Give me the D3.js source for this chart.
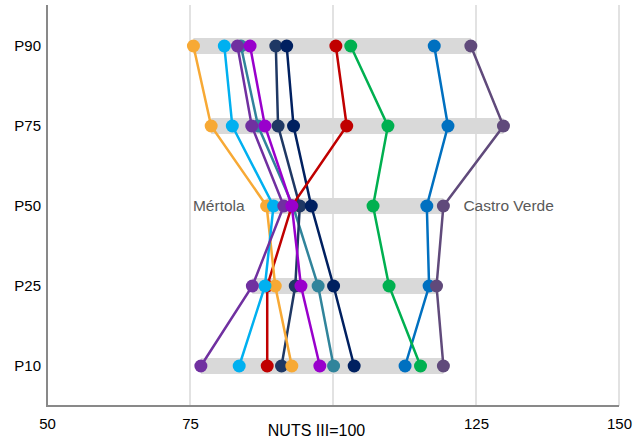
<!DOCTYPE html>
<html>
<head>
<meta charset="utf-8">
<script src="https://cdn.jsdelivr.net/npm/d3@7"></script>
<style>
  html, body { margin: 0; padding: 0; background: #fff; }
  svg { display: block; font-family: "Liberation Sans", Arial, sans-serif; }
</style>
</head>
<body>
<svg id="chart" width="644" height="438"></svg>
<script>
// ---- data ----
const percentiles = ["P90", "P75", "P50", "P25", "P10"];
const xTicks = [50, 75, 100, 125, 150];
const xTickLabels = ["50", "75", "NUTS III=100", "125", "150"];

const seriesNames = ["S-teal", "S-darkblue", "S-navy", "S-red", "Mértola", "S-lightblue", "S-purple", "S-violet", "S-blue", "S-green", "Castro Verde"];
const seriesColors = ["#31849b", "#1f3864", "#002060", "#c00000", "#f7a935", "#00b0f0", "#7030a0", "#9900cc", "#0070c0", "#00b050", "#604a7b"];
// values in percentile order: P90, P75, P50, P25, P10
const tealValues      = [83.9, 86.9, 93.0, 97.4, 100.1];
const darkBlueValues  = [90.0, 90.4, 94.2, 93.4, 91.0];
const navyValues      = [91.9, 93.1, 96.2, 100.1, 103.7];
const redValues       = [100.5, 102.4, 92.8, 88.5, 88.5];
const mertolaValues   = [75.6, 78.7, 88.4, 89.9, 92.8];
const lightBlueValues = [81.0, 82.4, 89.6, 88.1, 83.6];
const purpleValues    = [83.3, 85.8, 91.4, 85.9, 76.9];
const violetValues    = [85.5, 88.1, 92.8, 94.4, 97.7];
const blueValues      = [117.7, 120.1, 116.4, 116.8, 112.6];
const greenValues     = [103.1, 109.6, 107.0, 109.8, 115.3];
const castroValues    = [124.1, 129.8, 119.3, 118.1, 119.3];
const seriesValues = [tealValues, darkBlueValues, navyValues, redValues, mertolaValues, lightBlueValues,
                      purpleValues, violetValues, blueValues, greenValues, castroValues];

const labelledSeries = ["Mértola", "Castro Verde"];
const labelPercentile = "P50";

// ---- build ----
const series = seriesNames.map((name, i) => ({
  name, color: seriesColors[i],
  points: percentiles.map((p, j) => ({ p, v: seriesValues[i][j] }))
}));

const svg = d3.select("#chart");
const x = d3.scaleLinear().domain([50, 150]).range([47, 619]);
const y = d3.scalePoint().domain(percentiles).range([6, 406]).padding(0.5);
const bottomY = 406, topY = 5;

// gridlines
svg.append("g").selectAll("line").data(xTicks.slice(1)).join("line")
  .attr("x1", d => x(d)).attr("x2", d => x(d))
  .attr("y1", topY).attr("y2", bottomY)
  .attr("stroke", "#d9d9d9").attr("stroke-width", 1.5);

// range bars per percentile
svg.append("g").selectAll("rect").data(percentiles).join("rect")
  .attr("x", p => x(d3.min(seriesValues, s => s[percentiles.indexOf(p)])))
  .attr("width", p => {
    const j = percentiles.indexOf(p);
    return x(d3.max(seriesValues, s => s[j])) - x(d3.min(seriesValues, s => s[j]));
  })
  .attr("y", p => y(p) - 8).attr("height", 16)
  .attr("fill", "#d9d9d9");

// axes lines
svg.append("line").attr("x1", x(50)).attr("x2", x(50)).attr("y1", topY).attr("y2", bottomY + 1)
  .attr("stroke", "#898989").attr("stroke-width", 2);
svg.append("line").attr("x1", x(50) - 1).attr("x2", x(150)).attr("y1", bottomY).attr("y2", bottomY)
  .attr("stroke", "#898989").attr("stroke-width", 2);

// x tick labels
const xAxis = d3.axisBottom(x).tickValues(xTicks).tickSize(0)
  .tickFormat(d => xTickLabels[xTicks.indexOf(d)]);
const gx = svg.append("g").attr("transform", `translate(0,${bottomY})`).call(xAxis);
gx.select(".domain").remove();
gx.selectAll("text").attr("font-size", d => d === 100 ? 16 : 15).attr("fill", "#000")
  .attr("font-family", "Liberation Sans, Arial, sans-serif")
  .attr("x", d => d === 100 ? -17 : 0)
  .attr("y", d => d === 100 ? 19 : 12);

// y tick labels
const yAxis = d3.axisLeft(y).tickSize(0);
const gy = svg.append("g").attr("transform", `translate(${x(50)},0)`).call(yAxis);
gy.select(".domain").remove();
gy.selectAll("text").attr("font-size", 15).attr("fill", "#000")
  .attr("font-family", "Liberation Sans, Arial, sans-serif")
  .attr("x", -6);

// series
const line = d3.line().x(d => x(d.v)).y(d => y(d.p));
const sg = svg.append("g").selectAll("g").data(series).join("g");
sg.append("path").attr("d", d => line(d.points)).attr("fill", "none")
  .attr("stroke", d => d.color).attr("stroke-width", 2.5);
sg.selectAll("circle").data(d => d.points.map(pt => ({ ...pt, color: d.color }))).join("circle")
  .attr("cx", d => x(d.v)).attr("cy", d => y(d.p)).attr("r", 6.5)
  .attr("fill", d => d.color);

// labels
series.filter(s => labelledSeries.includes(s.name)).forEach(s => {
  const pt = s.points.find(p => p.p === labelPercentile);
  const left = pt.v < 100;
  svg.append("text")
    .attr("x", x(pt.v) + (left ? -22 : 20))
    .attr("y", y(pt.p) + 5)
    .attr("text-anchor", left ? "end" : "start")
    .attr("font-size", 15.5).attr("fill", "#595959")
    .text(s.name);
});
</script>
</body>
</html>
